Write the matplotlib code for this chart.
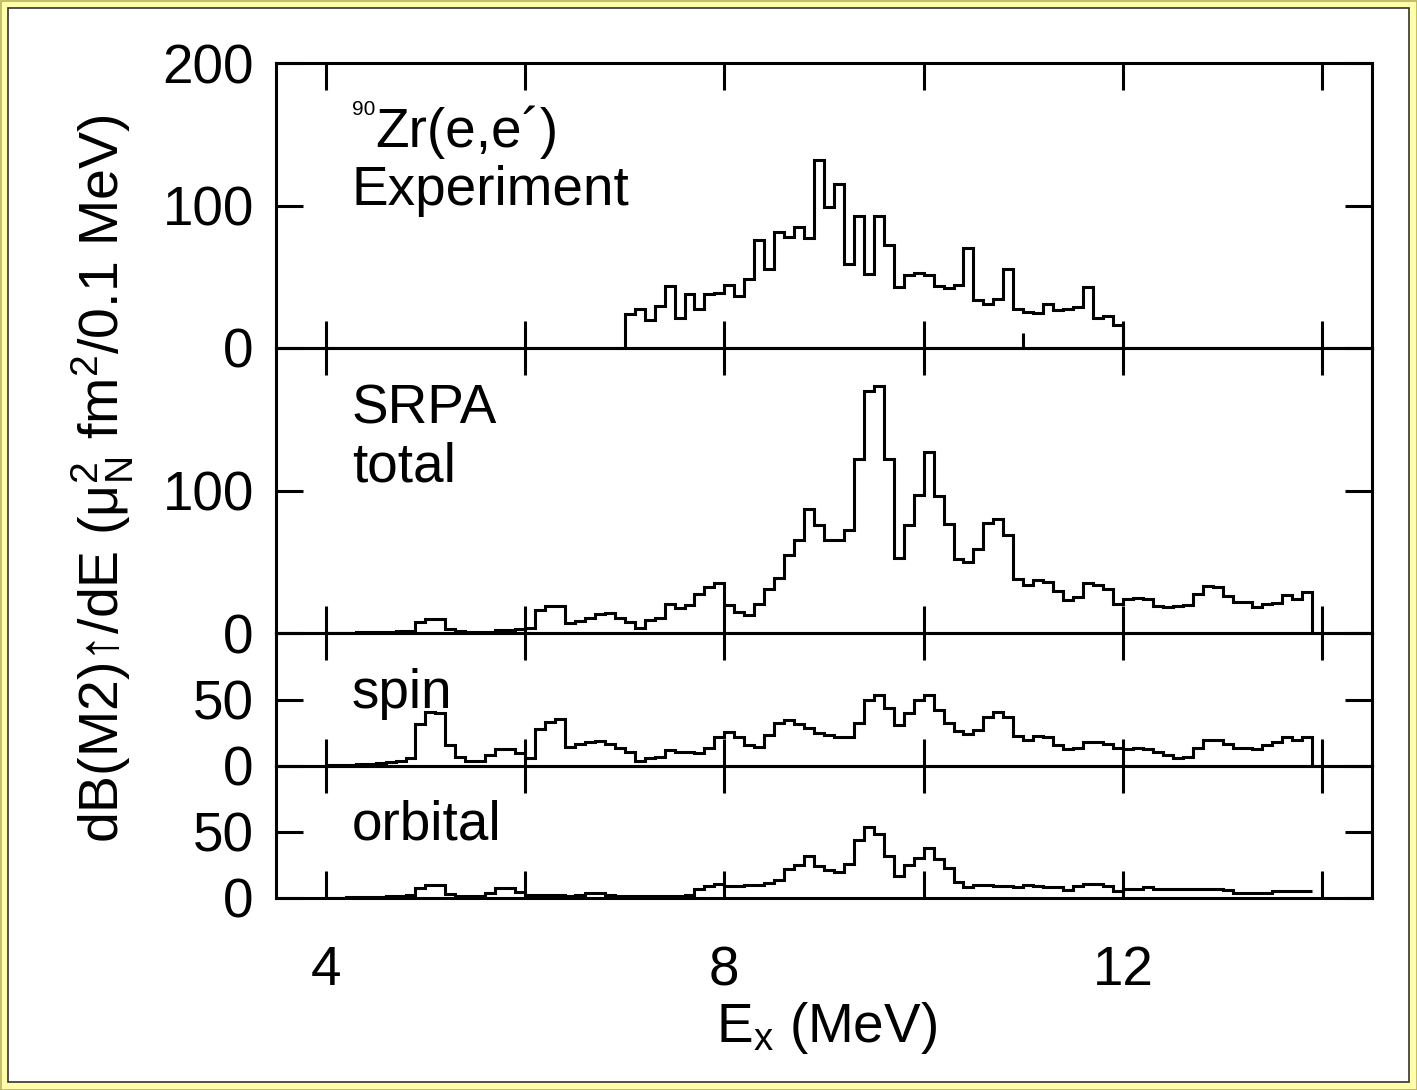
import matplotlib
matplotlib.use("Agg")
import matplotlib.pyplot as plt
from matplotlib.patches import Rectangle
import numpy as np

plt.rcParams["font.family"] = ["Liberation Sans", "DejaVu Sans"]
plt.rcParams["mathtext.fontset"] = "custom"
plt.rcParams["mathtext.rm"] = "Liberation Sans"
plt.rcParams["mathtext.it"] = "Liberation Sans:italic"
plt.rcParams["mathtext.bf"] = "Liberation Sans:bold"

# ---- data: dB(M2)/dE in 0.1 MeV bins ----
bin_width = 0.1
exp_start = 7.0
exp_values = [
    23.6, 27.1, 19.6, 29.7, 43.5, 21.3, 37.7, 27.1, 37.7, 38.8,
    44.2, 36.5, 48.2, 75.8, 55.2, 81.6, 78.1, 85.1, 76.9, 131.9,
    98.7, 114.8, 58.7, 92.9, 51.7, 92.9, 72.3, 43.0, 51.2, 52.9,
    51.2, 43.7, 41.9, 44.2, 70.0, 33.7, 30.9, 34.2, 55.7, 27.4,
    25.5, 24.3, 30.9, 26.7, 27.4, 29.0, 43.0, 20.8, 22.7, 16.1,
]

theory_start = 4.0
total_values = [
    0.2, 0.3, 0.3, 0.4, 0.5, 0.7, 1.0,
    1.2, 1.4, 7.7, 9.6, 9.6, 3.1, 1.4, 0.7, 0.7, 0.7,
    1.9, 2.3, 3.1, 3.5, 16.0, 19.0, 19.0, 7.3, 8.5, 10.8,
    13.1, 14.1, 10.8, 7.7, 3.5, 9.4, 10.8, 20.2, 17.6, 19.5,
    27.1,
    32.4, 35.2, 20.0, 14.8, 12.9, 20.4, 31.0, 38.3, 54.5, 65.0,
    86.9, 75.6, 65.0, 65.0, 72.1, 122.1, 169.7, 173.2, 122.1, 52.8,
    75.6, 96.9, 127.2, 96.2, 76.3, 52.1, 50.0, 59.2, 77.0, 80.3,
    68.5, 37.6, 34.0, 36.9, 35.7, 29.3, 23.0, 25.4, 35.2, 34.0,
    31.0, 20.7, 23.9, 24.6, 24.2, 19.2, 18.3, 18.8, 20.0, 27.5,
    33.3, 32.2, 26.3, 21.6, 21.6, 18.1, 20.4, 20.9, 26.5, 24.2,
    28.6,
]
spin_values = [
    0.8, 0.9, 1.0, 1.2, 1.5, 2.5, 3.3, 3.8, 6.3, 31.6,
    40.4, 39.9, 15.9, 7.1, 3.8, 3.8, 8.3, 12.9, 12.9, 10.1,
    5.8, 27.8, 33.1, 35.4, 14.6, 16.7, 17.7, 18.9, 16.4, 13.4,
    10.9, 3.8, 6.3, 7.1,
    12.1, 10.9, 10.9, 9.6, 13.4, 21.7,
    25.5, 21.7, 15.9, 14.1, 23.5, 32.3, 34.3, 31.8, 28.5, 24.7,
    23.5, 21.7, 21.7, 32.3, 49.5, 53.3, 43.7, 31.1, 39.9, 49.5,
    53.3, 42.4, 32.3, 26.0, 24.2, 27.3, 36.6, 40.7,
    36.9, 22.2, 19.7, 22.2, 21.7, 15.9, 12.9, 13.4, 18.4, 18.4,
    16.7, 13.9, 12.6, 13.9, 12.9, 10.9, 8.3, 5.8, 7.1, 13.4,
    19.2, 19.2, 16.7, 13.4, 13.4, 12.6, 15.9, 17.9, 21.7, 19.7,
    21.5,
]
orbital_values = [
    0.3, 0.3, 0.4, 0.4, 0.5, 0.5,
    1.3, 1.3, 2.0, 7.6,
    9.6, 9.6, 3.3, 1.3, 1.3, 1.3, 3.8, 7.6, 7.6, 4.3,
    2.5, 2.0, 2.0, 2.5, 1.3, 2.5, 3.8, 3.8, 2.5, 1.3,
    1.3, 1.3, 1.3,
    1.3, 1.3, 1.3, 2.5, 7.1, 9.3, 10.9,
    8.8, 8.8, 9.6, 9.6, 11.4, 13.9, 22.0, 24.7, 31.6, 24.0,
    21.5, 19.4, 26.0, 44.2, 53.8, 48.5, 32.1, 16.9, 25.3, 30.3,
    37.9, 29.5, 22.7, 11.9, 8.3, 10.1, 10.1, 9.3,
    9.3, 8.1, 9.6, 8.8, 8.1, 8.1, 5.8, 9.3, 10.6, 10.6,
    8.8, 5.1, 6.8, 6.8, 8.1, 7.1, 7.1, 6.8, 6.8, 6.8,
    6.8, 6.8, 6.3, 3.8, 3.8, 3.8, 3.8, 5.1, 5.1, 5.1,
    5.6,
]

x_major = [4, 6, 8, 10, 12, 14]
x_labels = ["4", "", "8", "", "12", ""]


def edges(start, n):
    return start + bin_width * np.arange(n + 1)


W, H = 1417, 1090
fig = plt.figure(figsize=(W / 100, H / 100), dpi=100)
fig.patch.set_facecolor("#FFFFAA")
fig.patches.append(Rectangle((0.5 / W, 0.5 / H), 1 - 1 / W, 1 - 1 / H,
                             transform=fig.transFigure, fill=False,
                             edgecolor="#B8B060", linewidth=1.2, zorder=-20))
fig.patches.append(Rectangle((8 / W, 8 / H), 1401 / W, 1074 / H,
                             transform=fig.transFigure, facecolor="white",
                             edgecolor="#333333", linewidth=1.2, zorder=-10))

left = 276 / W
width = (1372 - 276) / W
bounds_px = [63, 348, 633, 766, 898]


def make_ax(i):
    top, bot = bounds_px[i], bounds_px[i + 1]
    return fig.add_axes([left, 1 - bot / H, width, (bot - top) / H])


LW = 2.2
FS = 39.5

ax1, ax2, ax3, ax4 = [make_ax(i) for i in range(4)]
specs = [
    (ax1, 200, [0, 100, 200]),
    (ax2, 200, [0, 100]),
    (ax3, 100, [0, 50]),
    (ax4, 100, [0, 50]),
]
for ax, ymax, yt in specs:
    ax.set_facecolor("none")
    ax.set_xlim(3.5, 14.5)
    ax.set_ylim(0, ymax)
    ax.set_xticks(x_major)
    ax.set_yticks(yt)
    ax.set_yticklabels([str(v) for v in yt])
    ax.tick_params(which="major", direction="in", length=19.5, width=LW,
                   top=True, right=True, labelsize=FS, pad=16)
    ax.tick_params(axis="x", labelbottom=False)
    for s in ax.spines.values():
        s.set_linewidth(LW)

ax1.set_xticks([11], minor=True)
ax1.tick_params(axis="x", which="minor", direction="in", length=11,
                width=LW, top=False, bottom=True)

ax4.set_xticklabels(x_labels)
ax4.tick_params(axis="x", labelbottom=True, pad=34)

ax1.stairs(exp_values, edges(exp_start, len(exp_values)), baseline=0,
           color="black", linewidth=LW)
ax2.stairs(total_values, edges(theory_start, len(total_values)), baseline=0,
           color="black", linewidth=LW)
ax3.stairs(spin_values, edges(theory_start, len(spin_values)), baseline=0,
           color="black", linewidth=LW)
ax4.stairs(orbital_values, edges(theory_start, len(orbital_values)),
           baseline=None, color="black", linewidth=LW)

tx = 352 / W
fig.text(tx, 1 - 115 / H, "90", fontsize=15, va="baseline")
fig.text(375 / W, 1 - 147 / H, "Zr(e,e\u00b4)", fontsize=FS, va="baseline")
fig.text(tx, 1 - 205 / H, "Experiment", fontsize=FS, va="baseline")
fig.text(tx, 1 - 424 / H, "SRPA", fontsize=FS, va="baseline")
fig.text(tx, 1 - 482 / H, "total", fontsize=FS, va="baseline")
fig.text(tx, 1 - 708 / H, "spin", fontsize=FS, va="baseline")
fig.text(tx, 1 - 840 / H, "orbital", fontsize=FS, va="baseline")

fig.text(826 / W, 1 - 1042 / H, "E$_\\mathrm{x}$ (MeV)", fontsize=FS,
         ha="center", va="baseline")
fig.text(103 / W, 1 - 479 / H,
         "dB(M2)\u2191/dE (\u03bc$_\\mathrm{N}^{2}$ fm$^{2}$/0.1 MeV)",
         fontsize=40, rotation=90, ha="center", va="center")

fig.savefig("out.png", dpi=100, facecolor=fig.get_facecolor())
